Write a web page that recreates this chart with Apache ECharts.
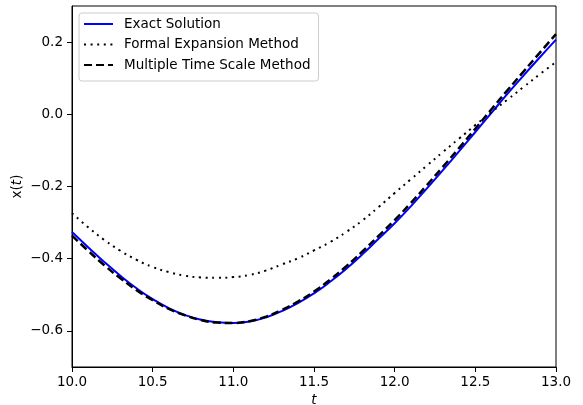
<!DOCTYPE html>
<html>
<head>
<meta charset="utf-8">
<script src="https://cdn.jsdelivr.net/npm/echarts@6/dist/echarts.min.js"></script>
<style>
  html, body { margin: 0; padding: 0; background: #fff; }
  #chart { width: 583px; height: 405px; }
</style>
</head>
<body>
<div id="chart"></div>
<script>
// time points (t)
const tVals = [10.0, 10.1, 10.2, 10.3, 10.4, 10.5, 10.6, 10.7, 10.8, 10.9,
               11.0, 11.1, 11.2, 11.3, 11.4, 11.5, 11.6, 11.7, 11.8, 11.9,
               12.0, 12.1, 12.2, 12.3, 12.4, 12.5, 12.6, 12.7, 12.8, 12.9, 13.0];

// x(t)
const exactVals = [-0.326, -0.368, -0.409, -0.447, -0.482, -0.512, -0.537, -0.556, -0.569, -0.576,
                   -0.578, -0.574, -0.563, -0.545, -0.523, -0.496, -0.464, -0.428, -0.388, -0.345,
                   -0.302, -0.255, -0.205, -0.154, -0.102, -0.049, 0.004, 0.057, 0.108, 0.158, 0.207];
const formalVals = [-0.274, -0.313, -0.348, -0.378, -0.403, -0.423, -0.437, -0.447, -0.452, -0.453,
                    -0.451, -0.445, -0.433, -0.416, -0.399, -0.377, -0.354, -0.326, -0.294, -0.257,
                    -0.218, -0.180, -0.142, -0.104, -0.067, -0.030, 0.006, 0.041, 0.076, 0.111, 0.145];
const multiVals = [-0.336, -0.378, -0.418, -0.454, -0.487, -0.515, -0.539, -0.557, -0.570, -0.577,
                   -0.578, -0.573, -0.561, -0.542, -0.519, -0.491, -0.458, -0.421, -0.380, -0.337,
                   -0.293, -0.246, -0.196, -0.145, -0.093, -0.040, 0.014, 0.067, 0.119, 0.171, 0.222];

const yTicks = [-0.6, -0.4, -0.2, 0.0, 0.2];

const pairs = vals => tVals.map((t, i) => [t, vals[i]]);
const fmt = v => v.toFixed(1).replace('-', '\u2212');
const font = 'DejaVu Sans';
const fs = 13.5;

const myChart = echarts.init(document.getElementById('chart'));
myChart.setOption({
    animation: false,
    textStyle: { fontFamily: font },
    grid: {
        left: 72, right: 27, top: 6, bottom: 38,
        outerBoundsMode: 'none',
        show: true, borderColor: '#000', borderWidth: 1
    },
    legend: {
        orient: 'vertical',
        left: 79, top: 13,
        padding: [4, 8, 9, 4],
        itemWidth: 29, itemHeight: 14, itemGap: 6.5,
        borderColor: '#cccccc', borderWidth: 1, borderRadius: 3,
        backgroundColor: 'rgba(255,255,255,0.8)',
        itemStyle: { opacity: 0 },
        textStyle: { fontFamily: font, fontSize: fs, color: '#000', padding: [0, 0, 0, 6] },
        data: ['Exact Solution', 'Formal Expansion Method', 'Multiple Time Scale Method']
    },
    xAxis: {
        type: 'value', min: 10, max: 13, interval: 0.5,
        name: 't', nameLocation: 'middle', nameGap: 25,
        nameTextStyle: { fontFamily: font, fontSize: fs, fontStyle: 'italic', color: '#000' },
        axisLine: { onZero: false, lineStyle: { color: '#000', width: 1 } },
        axisTick: { length: 5, lineStyle: { color: '#000' } },
        axisLabel: { margin: 8, fontSize: fs, color: '#000', formatter: fmt },
        splitLine: { show: false }
    },
    yAxis: {
        type: 'value', min: -0.7, max: 0.3,
        name: '{a|x(}{b|t}{a|)}', nameLocation: 'middle', nameGap: 48, nameRotate: 90,
        nameMoveOverlap: false,
        nameTextStyle: {
            rich: {
                a: { fontFamily: font, fontSize: fs, color: '#000' },
                b: { fontFamily: font, fontSize: fs, color: '#000', fontStyle: 'italic' }
            }
        },
        axisLine: { onZero: false, lineStyle: { color: '#000', width: 1 } },
        axisTick: { length: 5, lineStyle: { color: '#000' }, customValues: yTicks },
        axisLabel: { margin: 9, fontSize: fs, color: '#000', formatter: fmt, customValues: yTicks },
        splitLine: { show: false }
    },
    series: [
        {
            name: 'Exact Solution', type: 'line', data: pairs(exactVals),
            smooth: true, symbol: 'none',
            itemStyle: { color: '#0000ff' },
            lineStyle: { color: '#0000ff', width: 2 }
        },
        {
            name: 'Formal Expansion Method', type: 'line', data: pairs(formalVals),
            smooth: true, symbol: 'none',
            itemStyle: { color: '#000' },
            lineStyle: { color: '#000', width: 2, type: [2, 4.6], cap: 'butt' }
        },
        {
            name: 'Multiple Time Scale Method', type: 'line', data: pairs(multiVals),
            smooth: true, symbol: 'none',
            itemStyle: { color: '#000' },
            lineStyle: { color: '#000', width: 2.5, type: [8, 4], cap: 'butt' }
        }
    ]
});
</script>
</body>
</html>
